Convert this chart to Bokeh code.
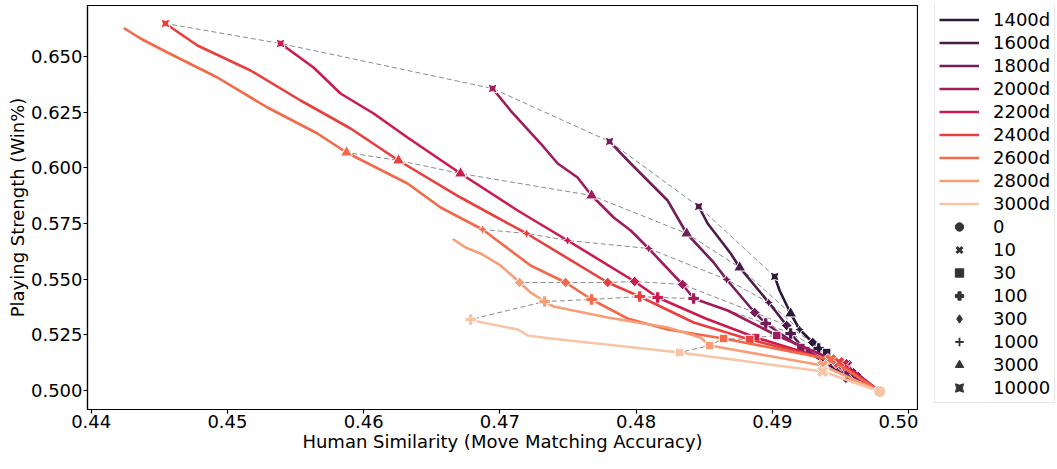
import math
from bokeh.plotting import figure
from bokeh.layouts import row
from bokeh.models import Range1d, FixedTicker, Legend, LegendItem, ColumnDataSource
from bokeh.embed import file_html
from bokeh.resources import INLINE

# ---------------- data ----------------
series = ["1400d", "1600d", "1800d", "2000d", "2200d", "2400d", "2600d", "2800d", "3000d"]
colors = ["#2b1a3c", "#4d1b4b", "#731f59", "#a11c5c", "#cb1b4f", "#e83f3f", "#f16a4a", "#f59e77", "#f7c5a6"]

steps = [10000, 3000, 1000, 300, 100, 30, 10, 0]
legend_steps = [0, 10, 30, 100, 300, 1000, 3000, 10000]

x_ticks = [0.44, 0.45, 0.46, 0.47, 0.48, 0.49, 0.50]
x_tick_labels = ["0.44", "0.45", "0.46", "0.47", "0.48", "0.49", "0.50"]
y_ticks = [0.500, 0.525, 0.550, 0.575, 0.600, 0.625, 0.650]
y_tick_labels = ["0.500", "0.525", "0.550", "0.575", "0.600", "0.625", "0.650"]

# checkpoint values, aligned with `steps` (None = checkpoint not reached)
ckpt_x = {
    "1400d": [0.49017, 0.49134, 0.49200, 0.49296, 0.49340, 0.49398, 0.49574, 0.49788],
    "1600d": [0.48459, 0.48760, 0.48973, 0.49105, 0.49134, 0.49244, 0.49560, 0.49788],
    "1800d": [0.47805, 0.48371, 0.48664, 0.48870, 0.48951, 0.49209, 0.49611, 0.49788],
    "2000d": [0.46946, 0.47673, 0.48092, 0.48341, 0.48422, 0.49032, 0.49545, 0.49788],
    "2200d": [0.45390, 0.46711, 0.47497, 0.47989, 0.48158, 0.48877, 0.49523, 0.49788],
    "2400d": [0.44545, 0.46256, 0.47196, 0.47791, 0.48026, 0.48833, 0.49487, 0.49788],
    "2600d": [None, 0.45874, 0.46873, 0.47482, 0.47673, 0.48642, 0.49428, 0.49788],
    "2800d": [None, None, None, 0.47145, 0.47328, 0.48540, 0.49370, 0.49788],
    "3000d": [None, None, None, None, 0.46785, 0.48319, 0.49370, 0.49788],
}
ckpt_y = {
    "1400d": [0.55119, 0.53458, 0.52739, 0.52155, 0.51886, 0.51706, 0.50763, 0.49955],
    "1600d": [0.58262, 0.55523, 0.53952, 0.52919, 0.52560, 0.51796, 0.50584, 0.49955],
    "1800d": [0.61181, 0.57050, 0.54984, 0.53502, 0.53009, 0.51931, 0.50584, 0.49955],
    "2000d": [0.63561, 0.58756, 0.56376, 0.54760, 0.54131, 0.52470, 0.51123, 0.49955],
    "2200d": [0.65582, 0.59744, 0.56736, 0.54895, 0.54176, 0.52380, 0.51168, 0.49955],
    "2400d": [0.66480, 0.60328, 0.57050, 0.54850, 0.54221, 0.52290, 0.51257, 0.49955],
    "2600d": [None, 0.60687, 0.57230, 0.54850, 0.54086, 0.52335, 0.51392, 0.49955],
    "2800d": [None, None, None, 0.54850, 0.53996, 0.52021, 0.51123, 0.49955],
    "3000d": [None, None, None, None, 0.53188, 0.51706, 0.50853, 0.49955],
}

# full training curves (checkpoints plus the points in between)
path_x = {
    "1400d": [0.49017, 0.49053, 0.49134, 0.49200, 0.49296, 0.49340, 0.49398, 0.49574, 0.49788],
    "1600d": [0.48459, 0.48525, 0.48694, 0.48760, 0.48973, 0.49105, 0.49134, 0.49244, 0.49560, 0.49788],
    "1800d": [0.47805, 0.47960, 0.48231, 0.48371, 0.48569, 0.48664, 0.48870, 0.48951, 0.49209, 0.49611, 0.49788],
    "2000d": [0.46946, 0.47078, 0.47299, 0.47424, 0.47570, 0.47673, 0.47835, 0.47960, 0.48092, 0.48341,
              0.48422, 0.48672, 0.49032, 0.49545, 0.49788],
    "2200d": [0.45390, 0.45632, 0.45830, 0.46073, 0.46322, 0.46711, 0.47130, 0.47497, 0.47989, 0.48158,
              0.48510, 0.48877, 0.49523, 0.49788],
    "2400d": [0.44545, 0.44780, 0.45170, 0.45537, 0.45904, 0.46256, 0.46711, 0.47196, 0.47791, 0.48026,
              0.48422, 0.48833, 0.49487, 0.49788],
    "2600d": [0.44245, 0.44362, 0.44560, 0.44927, 0.45294, 0.45661, 0.45874, 0.46322, 0.46565, 0.46873,
              0.47225, 0.47482, 0.47673, 0.47937, 0.48231, 0.48642, 0.49428, 0.49788],
    "2800d": [0.46660, 0.46748, 0.46858, 0.47005, 0.47145, 0.47225, 0.47328, 0.47394, 0.47791, 0.48231,
              0.48473, 0.48540, 0.49370, 0.49788],
    "3000d": [0.46785, 0.46836, 0.47130, 0.47203, 0.47372, 0.48319, 0.49370, 0.49788],
}
path_y = {
    "1400d": [0.55119, 0.54490, 0.53458, 0.52739, 0.52155, 0.51886, 0.51706, 0.50763, 0.49955],
    "1600d": [0.58262, 0.57499, 0.56152, 0.55523, 0.53952, 0.52919, 0.52560, 0.51796, 0.50584, 0.49955],
    "1800d": [0.61181, 0.60193, 0.58532, 0.57050, 0.55748, 0.54984, 0.53502, 0.53009, 0.51931, 0.50584, 0.49955],
    "2000d": [0.63561, 0.62573, 0.61091, 0.60193, 0.59565, 0.58756, 0.57768, 0.57185, 0.56376, 0.54760,
              0.54131, 0.53593, 0.52470, 0.51123, 0.49955],
    "2200d": [0.65582, 0.64504, 0.63337, 0.62438, 0.61361, 0.59744, 0.58083, 0.56736, 0.54895, 0.54176,
              0.53234, 0.52380, 0.51168, 0.49955],
    "2400d": [0.66480, 0.65492, 0.64369, 0.63022, 0.61765, 0.60328, 0.58666, 0.57050, 0.54850, 0.54221,
              0.53053, 0.52290, 0.51257, 0.49955],
    "2600d": [0.66255, 0.65806, 0.65177, 0.64055, 0.62708, 0.61540, 0.60687, 0.59295, 0.58218, 0.57230,
              0.55613, 0.54850, 0.54086, 0.53234, 0.52740, 0.52335, 0.51392, 0.49955],
    "2800d": [0.56780, 0.56422, 0.56153, 0.55614, 0.54850, 0.54401, 0.53996, 0.53772, 0.53278, 0.52829,
              0.52380, 0.52021, 0.51123, 0.49955],
    "3000d": [0.53188, 0.53099, 0.52740, 0.52471, 0.52336, 0.51706, 0.50853, 0.49955],
}

# ---------------- styles ----------------
FONT = "DejaVu Sans"
marker_style = {
    0: ("circle", 0.0, 12),
    10: ("plus", math.pi / 4, 12.5),
    30: ("square", 0.0, 8.5),
    100: ("plus", 0.0, 11.5),
    300: ("square", math.pi / 4, 7.5),
    1000: ("square_pin", math.pi / 4, 7),
    3000: ("triangle", 0.0, 12),
    10000: ("square_pin", 0.0, 9),
}

p = figure(width=918, height=469,
           x_range=Range1d(0.43973, 0.50065), y_range=Range1d(0.49147, 0.67288),
           output_backend="svg", toolbar_location=None,
           min_border_left=87, min_border_right=1, min_border_top=5, min_border_bottom=60)
p.grid.visible = False
p.outline_line_color = "black"
p.outline_line_width = 1.2
p.background_fill_color = "white"
p.border_fill_color = "white"

for ax in (p.xaxis[0], p.yaxis[0]):
    ax.axis_line_color = "black"
    ax.axis_line_width = 1.2
    ax.major_tick_line_color = "black"
    ax.major_tick_line_width = 1.2
    ax.major_tick_in = 0
    ax.major_tick_out = 4
    ax.minor_tick_line_color = None
    ax.major_label_text_font = FONT
    ax.major_label_text_font_size = "18px"
    ax.major_label_text_color = "black"
    ax.axis_label_text_font = FONT
    ax.axis_label_text_font_size = "18px"
    ax.axis_label_text_font_style = "normal"
    ax.axis_label_text_color = "black"

p.xaxis.ticker = FixedTicker(ticks=x_ticks)
p.xaxis.major_label_overrides = dict(zip(x_ticks, x_tick_labels))
p.yaxis.ticker = FixedTicker(ticks=y_ticks)
p.yaxis.major_label_overrides = dict(zip(y_ticks, y_tick_labels))
p.xaxis.axis_label = "Human Similarity (Move Matching Accuracy)"
p.yaxis.axis_label = "Playing Strength (Win%)"
p.xaxis.major_label_standoff = 1
p.xaxis.axis_label_standoff = 0
p.yaxis.major_label_standoff = 1
p.yaxis.axis_label_standoff = 0

# dashed connectors between equal-step checkpoints
for si, st in enumerate(steps):
    if st == 0:
        continue
    xs = [ckpt_x[s][si] for s in series if ckpt_x[s][si] is not None]
    ys = [ckpt_y[s][si] for s in series if ckpt_y[s][si] is not None]
    p.line(xs, ys, line_color="#8a8a8a", line_width=1, line_dash="5 3")

for s, c in zip(series, colors):
    p.line(path_x[s], path_y[s], line_color=c, line_width=2.6, line_join="round", line_cap="round")
    data = dict(x=[], y=[], marker=[], angle=[], size=[])
    for si, st in enumerate(steps):
        if ckpt_x[s][si] is None:
            continue
        m, a, sz = marker_style[st]
        data["x"].append(ckpt_x[s][si])
        data["y"].append(ckpt_y[s][si])
        data["marker"].append(m)
        data["angle"].append(a)
        data["size"].append(sz)
    src = ColumnDataSource(data)
    p.scatter(x="x", y="y", marker="marker", angle="angle", size="size", source=src,
              fill_color=c, line_color="white", line_width=1)

# ---------------- legend canvas beside the plot ----------------
lg = figure(width=139, height=469, x_range=Range1d(0, 1), y_range=Range1d(0, 1),
            output_backend="svg", toolbar_location=None,
            x_axis_location=None, y_axis_location=None, min_border=0)
lg.grid.visible = False
lg.outline_line_color = None
lg.background_fill_color = "white"
lg.border_fill_color = "white"

nan = float("nan")
items = []
for s, c in zip(series, colors):
    r = lg.line([nan, nan], [nan, nan], line_color=c, line_width=2.6)
    items.append(LegendItem(label=s, renderers=[r]))
legend_marker = {0: ["circle"], 10: ["x"], 30: ["square"], 100: ["plus"], 300: ["diamond"],
                 1000: ["cross", "dot"], 3000: ["triangle"], 10000: ["square_pin"]}
for st in legend_steps:
    rs = []
    for m in legend_marker[st]:
        lw = 3 if m == "x" else (1.8 if m == "cross" else 1)
        rs.append(lg.scatter([nan], [nan], marker=m, size=9, fill_color="#333333",
                             line_color="#333333", line_width=lw))
    items.append(LegendItem(label=str(st), renderers=rs))

# location = bottom-left corner of the legend box, relative to this canvas' frame
legend = Legend(items=items, location=(16, 6))
legend.label_text_font = FONT
legend.label_text_font_size = "18px"
legend.label_text_color = "black"
legend.glyph_width = 40
legend.glyph_height = 21
legend.label_standoff = 14
legend.spacing = 2
legend.padding = 4
legend.margin = 0
legend.border_line_color = "#d0d0d0"
legend.border_line_width = 1
legend.background_fill_color = "white"
legend.background_fill_alpha = 1.0
lg.add_layout(legend)

layout = row(p, lg, spacing=0)
open("out.html", "w").write(file_html(layout, INLINE))
